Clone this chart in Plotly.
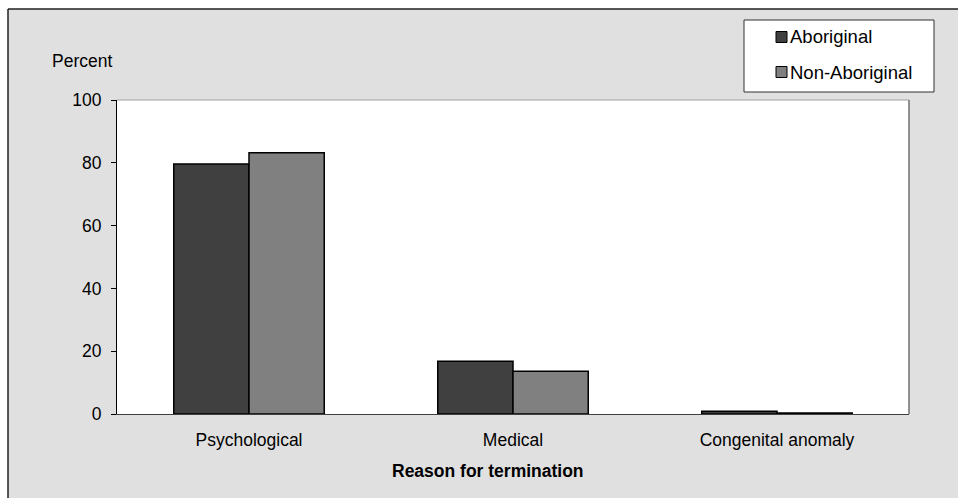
import plotly.graph_objects as go

categories = ["Psychological", "Medical", "Congenital anomaly"]
aboriginal = [79.6, 16.8, 0.9]
non_aboriginal = [83.2, 13.6, 0.3]
y_ticks = [0, 20, 40, 60, 80, 100]
series_names = ["Aboriginal", "Non-Aboriginal"]
series_colors = ["#404040", "#808080"]

FONT = "Liberation Sans, Arial, sans-serif"
fig = go.Figure()
for name, vals, col in zip(series_names, [aboriginal, non_aboriginal], series_colors):
    fig.add_trace(go.Bar(x=categories, y=vals, name=name, showlegend=False,
                         marker=dict(color=col, line=dict(color="#000000", width=1.5))))

L, R, T, B = 117, 49, 100, 84
W, H = 958, 498
pw, ph = W - L - R, H - T - B

def px(x):
    return (x - L) / pw

def py(y):
    return (H - B - y) / ph

shapes = [
    dict(type="line", xref="paper", yref="paper", x0=0, x1=1, y0=1, y1=1,
         line=dict(color="#a0a0a0", width=1)),
    dict(type="line", xref="paper", yref="paper", x0=1, x1=1, y0=0, y1=1,
         line=dict(color="#707070", width=1.5)),
    # white page margin and outer border
    dict(type="rect", xref="paper", yref="paper", x0=px(-5), x1=px(8), y0=py(505), y1=py(-5),
         fillcolor="#ffffff", line=dict(width=0), layer="above"),
    dict(type="rect", xref="paper", yref="paper", x0=px(-5), x1=px(965), y0=py(9), y1=py(-5),
         fillcolor="#ffffff", line=dict(width=0), layer="above"),
    dict(type="line", xref="paper", yref="paper", x0=px(8), x1=px(1200),
         y0=py(9), y1=py(9), line=dict(color="#202020", width=1.5)),
    dict(type="line", xref="paper", yref="paper", x0=px(8), x1=px(8),
         y0=py(9), y1=py(700), line=dict(color="#202020", width=1.5)),
    # legend box
    dict(type="rect", xref="paper", yref="paper", x0=px(744), x1=px(934),
         y0=py(92), y1=py(20), fillcolor="#ffffff",
         line=dict(color="#303030", width=1)),
]
annotations = [
    dict(text="Percent", xref="paper", yref="paper", x=px(50), y=py(61),
         xanchor="left", yanchor="middle", showarrow=False,
         font=dict(family=FONT, size=17.5)),
    dict(text="<b>Reason for termination</b>", xref="paper", yref="paper",
         x=px(488), y=py(471), xanchor="center", yanchor="middle", showarrow=False,
         font=dict(family=FONT, size=17.5)),
]
legend_rows = [37, 72]
for name, col, yc in zip(series_names, series_colors, legend_rows):
    shapes.append(dict(type="rect", xref="paper", yref="paper",
                       x0=px(776), x1=px(787), y0=py(yc + 5.5), y1=py(yc - 5.5),
                       fillcolor=col, line=dict(color="#000000", width=1)))
    annotations.append(dict(text=name, xref="paper", yref="paper", x=px(788), y=py(yc),
                            xanchor="left", yanchor="middle", showarrow=False,
                            font=dict(family=FONT, size=18.5)))

fig.update_layout(
    width=W, height=H,
    margin=dict(l=L, r=R, t=T, b=B, pad=0),
    paper_bgcolor="#e0e0e0", plot_bgcolor="#ffffff",
    font=dict(family=FONT, size=17.5, color="#000000"),
    barmode="group", bargap=0.43, bargroupgap=0,
    showlegend=False,
    xaxis=dict(showline=True, linecolor="#404040", linewidth=1, ticks="",
               tickfont=dict(family=FONT, size=17.5), ticklabelstandoff=10,
               showgrid=False),
    yaxis=dict(range=[0, 100], tickvals=y_ticks, showline=True, linecolor="#000000",
               linewidth=1, ticks="outside", ticklen=5, tickcolor="#000000",
               ticklabelstandoff=6,
               showgrid=False, zeroline=False, tickfont=dict(family=FONT, size=17.5)),
    shapes=shapes,
    annotations=annotations,
)
fig.write_html("out.html", config={"displayModeBar": False},
               post_script="document.body.style.margin='0';document.body.style.overflow='hidden';")
